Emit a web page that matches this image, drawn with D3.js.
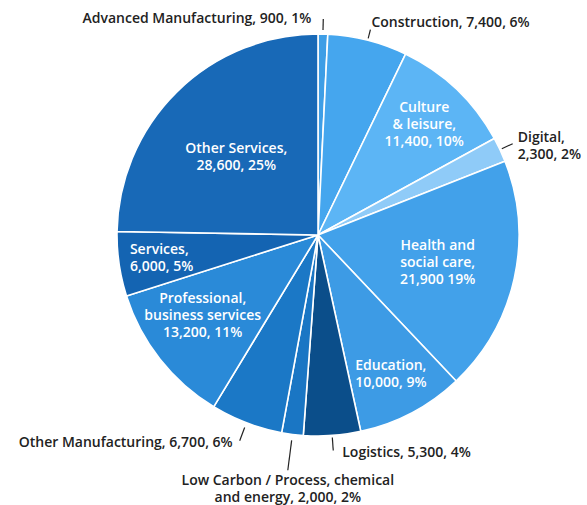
<!DOCTYPE html>
<html><head><meta charset="utf-8">
<script src="https://cdn.jsdelivr.net/npm/d3@7"></script>
<style>
html,body{margin:0;padding:0;background:#fff;}
svg{display:block;font-family:"Open Sans",sans-serif;font-weight:600;}
</style></head>
<body><svg id="chart" width="587" height="505"></svg>
<script>
// ---- data ----
const categories = ["Advanced Manufacturing","Construction","Culture & leisure","Digital","Health and social care","Education","Logistics","Low Carbon / Process, chemical and energy","Other Manufacturing","Professional, business services","Services","Other Services"];
const values = [900,7400,11400,2300,21900,10000,5300,2000,6700,13200,6000,28600];
const percents = ["1%","6%","10%","2%","19%","9%","4%","2%","6%","11%","5%","25%"];
const labelLines = [
  ["Advanced Manufacturing, 900, 1%"],
  ["Construction, 7,400, 6%"],
  ["Culture","& leisure,","11,400, 10%"],
  ["Digital,","2,300, 2%"],
  ["Health and","social care,","21,900 19%"],
  ["Education,","10,000, 9%"],
  ["Logistics, 5,300, 4%"],
  ["Low Carbon / Process, chemical","and energy, 2,000, 2%"],
  ["Other Manufacturing, 6,700, 6%"],
  ["Professional,","business services","13,200, 11%"],
  ["Services,","6,000, 5%"],
  ["Other Services,","28,600, 25%"]
];
const colors = ["#3e9ee6","#45a6ee","#5cb5f5","#8fcbf8","#42a1ea","#3d9be5","#0b4e8a","#1a76c4","#1b78c6","#2a8ad8","#1464b2","#1869b7"];

// ---- label layout (style, not data) ----
const layout = [
  {out:true, r0:1.02, r1:1.075, anchor:"end", dx:-12, dy:-1},
  {out:true, r0:1.01, r1:1.055, anchor:"start", dx:1, dy:-7},
  {out:false, r:0.76, anchor:"middle", dx:1, dy:0},
  {out:true, r0:1.01, r1:1.07, anchor:"start", dx:5, dy:2},
  {out:false, r:0.61, anchor:"middle", dx:0, dy:1},
  {out:false, r:0.78, anchor:"start", dx:-36, dy:0},
  {out:true, r0:1.01, r1:1.075, anchor:"start", dx:9, dy:2},
  {out:true, r0:1.03, r1:1.18, anchor:"middle", dx:0, dy:18},
  {out:true, r0:1.025, r1:1.095, anchor:"end", dx:-7, dy:1},
  {out:false, r:0.73, anchor:"middle", dx:0, dy:-11},
  {out:false, r:0.78, anchor:"start", dx:-33, dy:0},
  {out:false, r:0.58, anchor:"middle", dx:0, dy:5}
];

const cx = 318, cy = 235, R = 201;
const lineH = 17;

const svg = d3.select("#chart");
const g = svg.append("g").attr("transform", `translate(${cx},${cy})`);

const data = categories.map((c,i)=>({name:c, value:values[i], i}));
const pie = d3.pie().value(d=>d.value).sort(null);
const arcs = pie(data);
const arc = d3.arc().innerRadius(0).outerRadius(R);

g.selectAll("path.slice").data(arcs).join("path")
  .attr("class","slice")
  .attr("d", arc)
  .attr("fill", d=>colors[d.data.i])
  .attr("stroke","#fff")
  .attr("stroke-width",1.6)
  .attr("stroke-linejoin","round");

const pt = (a, r) => [Math.sin(a)*r, -Math.cos(a)*r];

arcs.forEach(d=>{
  const i = d.data.i, L = layout[i], lines = labelLines[i];
  const mid = (d.startAngle + d.endAngle)/2;
  let x, y, fill;
  if (L.out) {
    const p0 = pt(mid, R*L.r0), p1 = pt(mid, R*L.r1);
    g.append("line").attr("x1",p0[0]).attr("y1",p0[1]).attr("x2",p1[0]).attr("y2",p1[1])
      .attr("stroke","#222").attr("stroke-width",1.2);
    x = p1[0] + L.dx; y = p1[1] + L.dy; fill = "#222";
  } else {
    const p = pt(mid, R*L.r);
    x = p[0] + L.dx; y = p[1] + L.dy; fill = "#fff";
  }
  const n = lines.length;
  const t = g.append("text")
    .attr("text-anchor", L.anchor)
    .attr("fill", fill)
    .attr("font-size", 14);
  lines.forEach((s,k)=>{
    t.append("tspan").attr("x", x)
     .attr("y", y + (k - (n-1)/2)*lineH)
     .attr("dy","0.35em").text(s);
  });
});
</script></body></html>
